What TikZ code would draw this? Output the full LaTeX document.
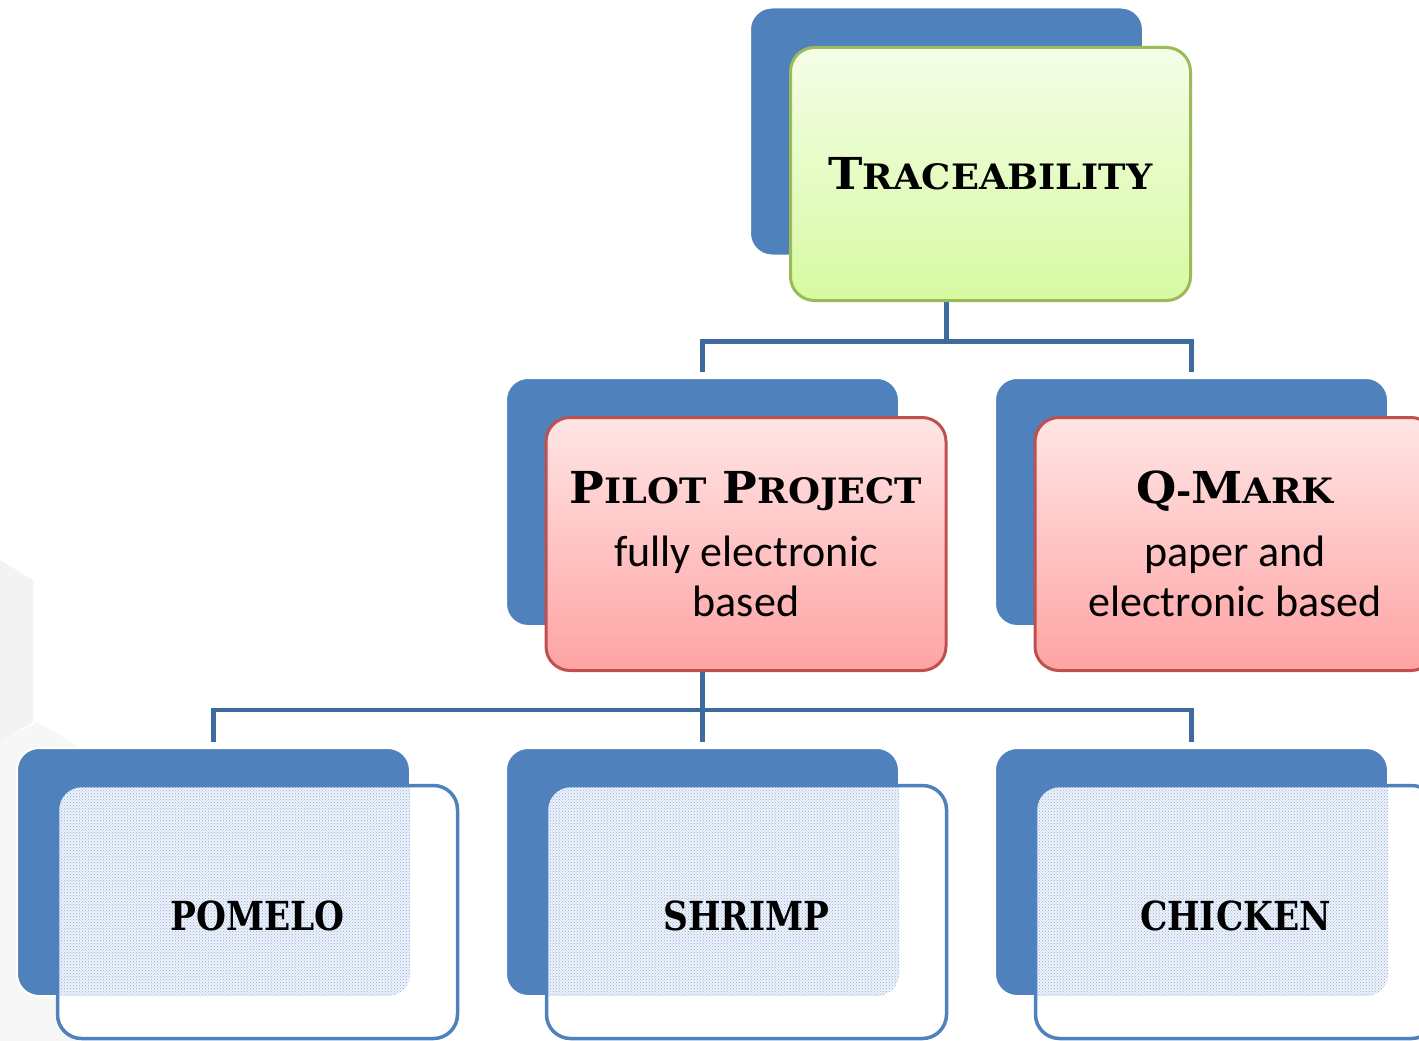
\documentclass[tikz,border=0pt]{standalone}
\usepackage{fontspec}
\setmainfont{Carlito}
\newfontfamily\capfont{DejaVu Serif}[FakeStretch=1.05]
\newfontfamily\leaffont{DejaVu Serif}[FakeStretch=0.86]
\usetikzlibrary{patterns}
\definecolor{boxblue}{HTML}{4F81BD}
\definecolor{linkblue}{HTML}{3E6A9E}
\definecolor{rootline}{HTML}{9BBB59}
\definecolor{roottop}{HTML}{F5FDE9}
\definecolor{rootbot}{HTML}{D7FAA0}
\definecolor{midline}{HTML}{C0504D}
\definecolor{midtop}{HTML}{FFE5E5}
\definecolor{midbot}{HTML}{FFA3A3}
\definecolor{dotblue}{HTML}{8FAADA}
\definecolor{dotback}{HTML}{EEF3FA}
\definecolor{wmgrey}{HTML}{F3F3F3}
\definecolor{wmlight}{HTML}{F7F7F7}
\newcommand{\sm}[1]{{\fontsize{35}{40}\selectfont #1}}
\tikzset{backbox/.style = {rectangle, rounded corners=22pt, fill=boxblue,
                           draw=white, line width=2pt, inner sep=0pt,
                           minimum width=393pt, minimum height=248pt},
         frontbox/.style = {rectangle, rounded corners=24pt, line width=3pt,
                            minimum width=400pt, minimum height=253pt,
                            align=center, inner sep=0pt,
                            font=\fontsize{44}{50}\selectfont},
         rootbox/.style = {frontbox, draw=rootline, top color=roottop,
                           bottom color=rootbot},
         midbox/.style = {frontbox, draw=midline, top color=midtop,
                          bottom color=midbot},
         leafbox/.style = {frontbox, draw=boxblue, line width=3.5pt, fill=white,
                           text height=37pt,
                           font=\fontsize{40}{46}\leaffont\bfseries,
                           path picture={\fill[preaction={fill=dotback},
                                               pattern=crosshatch dots,
                                               pattern color=dotblue,
                                               rounded corners=22pt]
                             ([shift={(-40.5pt,37.5pt)}]path picture bounding box.north west)
                             rectangle
                             ([shift={(352.5pt,-210.5pt)}]path picture bounding box.north west);}},
         link/.style = {draw=linkblue, line width=4.5pt, shorten >=5pt}}

\begin{document}
\begin{tikzpicture}[x=1pt, y=-1pt]
    \useasboundingbox (0, 0) rectangle (1419, 1041);
    \clip (0, 0) rectangle (1419, 1041);
    \fill[wmgrey] (0, 560) -- (33, 580) -- (33, 722) -- (0, 742) -- cycle;
    \fill[wmlight] (0, 742) -- (37, 722) -- (80, 747) -- (80, 1041) -- (0, 1041) -- cycle;

    \node (trb) [backbox] at (946.5, 131.5) {};
    \node (pib) [backbox] at (702.5, 502) {};
    \node (qmb) [backbox] at (1191.5, 502) {};
    \node (pob) [backbox] at (213.5, 872) {};
    \node (shb) [backbox] at (702.5, 872) {};
    \node (chb) [backbox] at (1191.5, 872) {};

    \draw [link] (trb.south) -- ++(0, 85) -| (pib.north);
    \draw [link] (trb.south) -- ++(0, 85) -| (qmb.north);
    \draw [link] (pib.south) -- ++(0, 83) -| (pob.north);
    \draw [link] (pib.south) -- ++(0, 83) -| (shb.north);
    \draw [link] (pib.south) -- ++(0, 83) -| (chb.north);

    \node (trace) [rootbox] at (990.5, 174) {\capfont\bfseries T\sm{RACEABILITY}};
    \node (pilot) [midbox] at (746, 544)
        {{\capfont\bfseries P\sm{ILOT} P\sm{ROJECT}}\\[13pt] fully electronic\\ based};
    \node (qmark) [midbox] at (1235, 544)
        {{\capfont\bfseries Q\sm{-}M\sm{ARK}}\\[13pt] paper and\\ electronic based};
    \node (pomelo) [leafbox] at (257.5, 912) {POMELO};
    \node (shrimp) [leafbox] at (746.5, 912) {SHRIMP};
    \node (chicken) [leafbox] at (1235.5, 912) {CHICKEN};
\end{tikzpicture}
\end{document}
